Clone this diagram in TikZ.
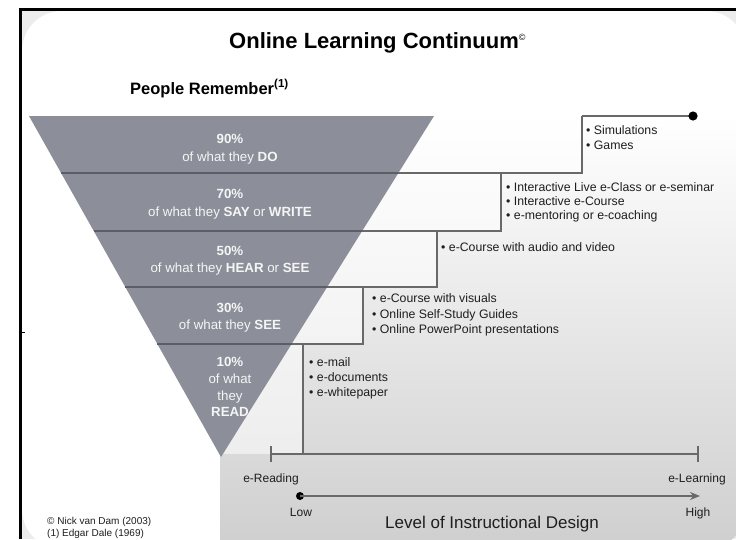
\documentclass[tikz,border=0pt]{standalone}
\usepackage{fontspec}
\setmainfont{Liberation Sans}
\usetikzlibrary{arrows.meta}
\definecolor{funnelc}{RGB}{140,143,153}
\definecolor{sepc}{RGB}{92,94,102}
\definecolor{stepc}{RGB}{105,105,105}
\definecolor{outerc}{RGB}{236,236,236}
\definecolor{ftext}{RGB}{245,245,245}
\definecolor{ltext}{RGB}{30,30,30}
\begin{document}
\begin{tikzpicture}[x=1pt,y=-1pt,
  ftxt/.style={text=ftext,font=\fontsize{13.3}{16}\selectfont,anchor=base,inner sep=0pt},
  ltxt/.style={text=ltext,font=\fontsize{12.3}{15}\selectfont,anchor=base west,inner sep=0pt},
  axtxt/.style={text=ltext,font=\fontsize{12}{15}\selectfont,anchor=base,inner sep=0pt},
  stepline/.style={draw=stepc,line width=1.4pt},
  sepline/.style={draw=sepc,line width=2.6pt},
  boxfill/.style={fill=white,fill opacity=.55}]
\useasboundingbox (0,0) rectangle (736,539);
\fill[white] (0,0) rectangle (736,539);
\fill[outerc] (20,9) rectangle (736,539);
\fill[white,rounded corners=40pt] (22,11) rectangle (746,549);
\begin{scope}
  \clip[rounded corners=40pt] (22,11) rectangle (746,549);
  \shade[top color=white,bottom color=gray!38] (220,116) rectangle (746,549);
\end{scope}
\draw[black,line width=2.6pt] (20.3,539) -- (20.3,9.3) -- (736,9.3);
\draw[black,line width=1pt] (20,332) -- (25,332);
% step boxes
\fill[boxfill] (220,116) rectangle (582,173);
\fill[boxfill] (220,173) rectangle (501,231);
\fill[boxfill] (220,231) rectangle (437,287);
\fill[boxfill] (220,287) rectangle (363,344);
\fill[boxfill] (220,344) rectangle (303,454);
% funnel
\coordinate (fTL) at (29,116);
\coordinate (fTR) at (434,116);
\coordinate (fTip) at (221,457);
\fill[funnelc] (fTL) -- (fTR) -- (fTip) -- cycle;
% step lines
\coordinate (s1) at (582,116);
\coordinate (s2) at (501,173);
\coordinate (s3) at (437,231);
\coordinate (s4) at (363,287);
\coordinate (s5) at (303,344);
\coordinate (axL) at (271,454);
\coordinate (axR) at (698,454);
\coordinate (dotT) at (693,116);
\draw[stepline] (s1) -- (dotT);
\draw[stepline] (398,173) -| (s1);
\draw[stepline] (362,231) -| (s2);
\draw[stepline] (327,287) -| (s3);
\draw[stepline] (291.6,344) -| (s4);
\draw[stepline] (s5) -- (s5 |- axL);
\draw[sepline] (61.1,173) -- (398.4,173);
\draw[sepline] (93.7,231) -- (362.2,231);
\draw[sepline] (125.3,287) -- (327.2,287);
\draw[sepline] (157.4,344) -- (291.6,344);
\fill[black] (dotT) circle (4.6);
% axis
\draw[stepline] (axL) -- (axR);
\draw[stepline] ([yshift=-8]axL) -- ([yshift=8]axL);
\draw[stepline] ([yshift=-8]axR) -- ([yshift=8]axR);
\coordinate (lowP) at (300,496);
\coordinate (highP) at (700,496);
\fill[black] (lowP) circle (4);
\draw[stepline,-{Stealth[length=10pt,width=8pt]}] (lowP) -- (highP);
% titles
\node[anchor=base west,inner sep=0pt,font=\fontsize{22}{26}\bfseries\selectfont] (title) at (229,48) {Online Learning Continuum\textsuperscript{\fontsize{9}{9}\selectfont\textmd{©}}};
\node[anchor=base west,inner sep=0pt,font=\fontsize{16.5}{20}\bfseries\selectfont] (people) at (130,94) {People Remember\textsuperscript{(1)}};
% funnel text
\node[ftxt] (p90) at (230,143) {\textbf{90\%}};
\node[ftxt] (t90) at (230,161) {of what they \textbf{DO}};
\node[ftxt] (p70) at (230,198) {\textbf{70\%}};
\node[ftxt] (t70) at (230,216) {of what they \textbf{SAY} or \textbf{WRITE}};
\node[ftxt] (p50) at (230,255) {\textbf{50\%}};
\node[ftxt] (t50) at (230,272) {of what they \textbf{HEAR} or \textbf{SEE}};
\node[ftxt] (p30) at (230,312) {\textbf{30\%}};
\node[ftxt] (t30) at (230,329) {of what they \textbf{SEE}};
\node[ftxt] (p10) at (230,366) {\textbf{10\%}};
\node[ftxt] (t10a) at (230,383) {of what};
\node[ftxt] (t10b) at (230,400) {they};
\node[ftxt] (t10c) at (230,416) {\textbf{READ}};
% lists
\node[ltxt] (a1) at (586,134) {• Simulations};
\node[ltxt] (a2) at (586,149) {• Games};
\node[ltxt] (b1) at (506,191) {• Interactive Live e-Class or e-seminar};
\node[ltxt] (b2) at (506,205) {• Interactive e-Course};
\node[ltxt] (b3) at (506,219) {• e-mentoring or e-coaching};
\node[ltxt] (c1) at (441,251) {• e-Course with audio and video};
\node[ltxt] (d1) at (372,302) {• e-Course with visuals};
\node[ltxt] (d2) at (372,318) {• Online Self-Study Guides};
\node[ltxt] (d3) at (372,333) {• Online PowerPoint presentations};
\node[ltxt] (e1) at (309,366) {• e-mail};
\node[ltxt] (e2) at (309,381) {• e-documents};
\node[ltxt] (e3) at (309,396) {• e-whitepaper};
% axis labels
\node[axtxt] (eread) at (271,482) {e-Reading};
\node[axtxt] (elearn) at (697,482) {e-Learning};
\node[axtxt] (low) at (301,516) {Low};
\node[axtxt] (high) at (698,516) {High};
\node[anchor=base,inner sep=0pt,text=ltext,font=\fontsize{17}{20}\selectfont] (lid) at (492,528) {Level of Instructional Design};
\node[anchor=base west,inner sep=0pt,text=ltext,font=\fontsize{10}{12}\selectfont] (c1note) at (47,524) {© Nick van Dam (2003)};
\node[anchor=base west,inner sep=0pt,text=ltext,font=\fontsize{10}{12}\selectfont] (c2note) at (47,536) {(1) Edgar Dale (1969)};
\end{tikzpicture}
\end{document}
